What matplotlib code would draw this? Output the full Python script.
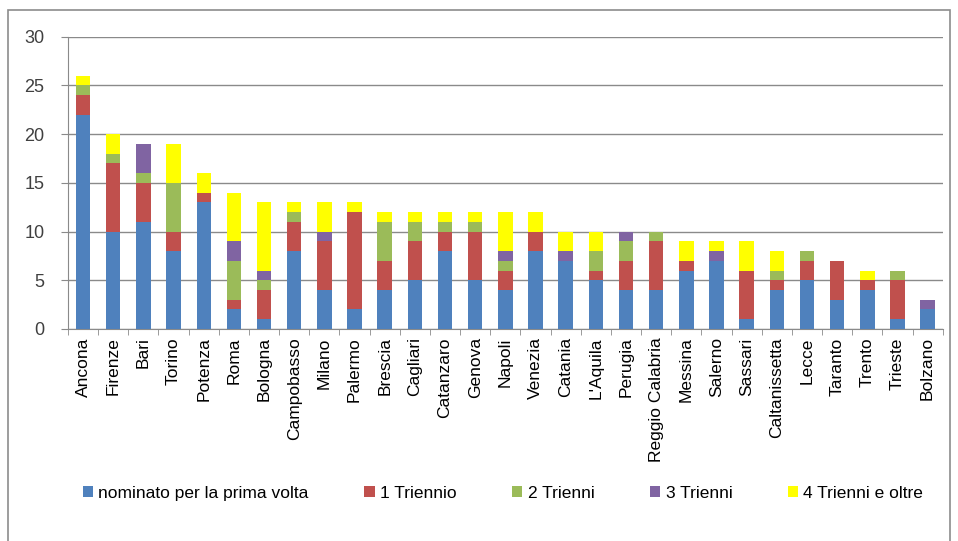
import numpy as np
import matplotlib.pyplot as plt
from matplotlib.patches import Rectangle

# dati
citta = ["Ancona", "Firenze", "Bari", "Torino", "Potenza", "Roma", "Bologna",
         "Campobasso", "Milano", "Palermo", "Brescia", "Cagliari", "Catanzaro",
         "Genova", "Napoli", "Venezia", "Catania", "L'Aquila", "Perugia",
         "Reggio Calabria", "Messina", "Salerno", "Sassari", "Caltanissetta",
         "Lecce", "Taranto", "Trento", "Trieste", "Bolzano"]
prima_volta = [22, 10, 11, 8, 13, 2, 1, 8, 4, 2, 4, 5, 8, 5, 4, 8, 7, 5, 4, 4, 6, 7, 1, 4, 5, 3, 4, 1, 2]
triennio_1 = [2, 7, 4, 2, 1, 1, 3, 3, 5, 10, 3, 4, 2, 5, 2, 2, 0, 1, 3, 5, 1, 0, 5, 1, 2, 4, 1, 4, 0]
trienni_2 = [1, 1, 1, 5, 0, 4, 1, 1, 0, 0, 4, 2, 1, 1, 1, 0, 0, 2, 2, 1, 0, 0, 0, 1, 1, 0, 0, 1, 0]
trienni_3 = [0, 0, 3, 0, 0, 2, 1, 0, 1, 0, 0, 0, 0, 0, 1, 0, 1, 0, 1, 0, 0, 1, 0, 0, 0, 0, 0, 0, 1]
trienni_4 = [1, 2, 0, 4, 2, 5, 7, 1, 3, 1, 1, 1, 1, 1, 4, 2, 2, 2, 0, 0, 2, 1, 3, 2, 0, 0, 1, 0, 0]

serie = [prima_volta, triennio_1, trienni_2, trienni_3, trienni_4]
etichette = ["nominato per la prima volta", "1 Triennio", "2 Trienni", "3 Trienni", "4 Trienni e oltre"]
colori = ["#4F81BD", "#C0504D", "#9BBB59", "#8064A2", "#FFFF00"]

plt.rcParams['font.family'] = ['Liberation Sans', 'DejaVu Sans']

fig = plt.figure(figsize=(9.58, 5.41), dpi=100)
# cornice del grafico
fig.patches.append(Rectangle((8 / 958, -0.05), 942 / 958, 1.05 - 10 / 541,
                             transform=fig.transFigure, fill=False,
                             edgecolor="#8c8c8c", linewidth=1.2))

ax = fig.add_axes([0.071, 0.392, 0.913, 0.54])
x = np.arange(len(citta))
base = np.zeros(len(citta))
for valori, lab, col in zip(serie, etichette, colori):
    ax.bar(x, valori, width=0.48, bottom=base, color=col, label=lab, zorder=3)
    base += np.array(valori)

ax.set_xlim(-0.5, len(citta) - 0.5)
ax.set_ylim(0, 30)
ax.set_yticks(range(0, 31, 5))
ax.yaxis.grid(True, color="#8a8a8a", linewidth=1, zorder=0)
ax.tick_params(axis='y', labelsize=13, colors="#8a8a8a", labelcolor="#404040",
               length=5, direction='out', pad=12)
ax.set_xticks(x)
ax.set_xticklabels(citta, rotation=90, fontsize=12.5)
ax.tick_params(axis='x', length=0, pad=6)
ax.set_xticks(np.arange(-0.5, len(citta), 1), minor=True)
ax.tick_params(axis='x', which='minor', length=4, color="#8a8a8a")
for s in ["top", "right"]:
    ax.spines[s].set_visible(False)
ax.spines["left"].set_color("#8a8a8a")
ax.spines["bottom"].set_color("#8a8a8a")

fig.legend(loc="center", bbox_to_anchor=(0.525, 0.088), ncol=5, frameon=False,
           fontsize=12.5, handlelength=0.6, handleheight=0.6, columnspacing=3.2,
           handletextpad=0.3)

fig.savefig("out.png", dpi=100)
